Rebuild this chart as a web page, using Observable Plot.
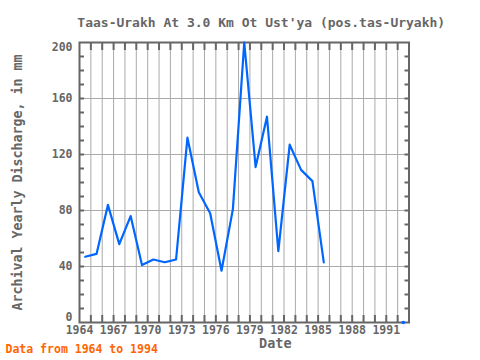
<!DOCTYPE html>
<html>
<head>
<meta charset="utf-8">
<script src="https://cdn.jsdelivr.net/npm/d3@7"></script>
<script src="https://cdn.jsdelivr.net/npm/@observablehq/plot@0.6"></script>
<style>
  html, body { margin: 0; padding: 0; background: #fff; }
</style>
</head>
<body>
<div id="chart"></div>
<script>
const titleText = "Taas-Urakh At 3.0 Km Ot Ust'ya (pos.tas-Uryakh)";
const xLabel = "Date";
const yLabel = "Archival Yearly Discharge, in mm";
const caption = "Data from 1964 to 1994";

const years = [1964,1965,1966,1967,1968,1969,1970,1971,1972,1973,1974,1975,1976,1977,1978,1979,1980,1981,1982,1983,1984,1985,1986,1987,1988,1989,1990,1991,1992];
const discharge = [47,49,84,56,76,41,45,43,45,132,93,78,37,81,200,111,147,51,127,109,101,43,null,null,null,null,null,null,0];

const xTickLabels = [1964,1967,1970,1973,1976,1979,1982,1985,1988,1991];
const yTickLabels = [0,40,80,120,160,200];
const yGrid = [40,80,120,160];
const yMinor = [10,20,30,40,50,60,70,80,90,100,110,120,130,140,150,160,170,180,190];
const yearTicks = [1965,1966,1967,1968,1969,1970,1971,1972,1973,1974,1975,1976,1977,1978,1979,1980,1981,1982,1983,1984,1985,1986,1987,1988,1989,1990,1991,1992];

const data = years.map((y, i) => ({year: y, value: discharge[i]}));
const isolated = data.filter((d, i) => d.value != null &&
  (i === 0 || data[i-1].value == null) && (i === data.length - 1 || data[i+1].value == null));

const font = "'DejaVu Sans Mono', monospace";
const gray = "#666";
const blue = "#0066ff";
const yMin = d3.min(yTickLabels), yMax = d3.max(yTickLabels);

const chart = Plot.plot({
  width: 480,
  height: 360,
  marginLeft: 79,
  marginRight: 71.5,
  marginTop: 42,
  marginBottom: 38,
  style: {fontFamily: font, background: "#fff"},
  x: {domain: [1964, 1993], axis: null},
  y: {domain: [0, 200], axis: null},
  marks: [
    Plot.ruleX(yearTicks, {stroke: "#aaa", strokeWidth: 1}),
    Plot.ruleY(yGrid, {stroke: "#aaa", strokeWidth: 1}),
    Plot.axisX(yearTicks, {anchor: "bottom", label: null, tickSize: -7, tickFormat: () => "", stroke: gray, strokeWidth: 2}),
    Plot.axisX(yearTicks, {anchor: "top", label: null, tickSize: -7, tickFormat: () => "", stroke: gray, strokeWidth: 2}),
    Plot.axisY(yMinor, {anchor: "left", label: null, tickSize: -5, tickFormat: () => "", stroke: gray, strokeWidth: 2}),
    Plot.axisY(yMinor, {anchor: "right", label: null, tickSize: -5, tickFormat: () => "", stroke: gray, strokeWidth: 2}),
    Plot.frame({stroke: gray, strokeWidth: 2}),
    Plot.line(data, {x: d => d.year + 0.5, y: "value", stroke: blue, strokeWidth: 2.2, defined: d => d.value != null}),
    Plot.dot(isolated, {x: d => d.year + 0.5, y: "value", r: 1.8, fill: blue, stroke: null}),
    Plot.text(xTickLabels, {x: d => d, frameAnchor: "bottom", dy: 11, text: d => String(d), fill: gray, fontSize: 11.5, fontWeight: "bold", fontFamily: font}),
    Plot.text(yTickLabels.filter(v => v !== yMin && v !== yMax), {y: d => d, frameAnchor: "left", dx: -7, textAnchor: "end", text: d => String(d), fill: gray, fontSize: 11.5, fontWeight: "bold", fontFamily: font}),
    Plot.text([yMax], {y: d => d, frameAnchor: "left", dx: -7, dy: 4.5, textAnchor: "end", text: d => String(d), fill: gray, fontSize: 11.5, fontWeight: "bold", fontFamily: font}),
    Plot.text([yMin], {y: d => d, frameAnchor: "left", dx: -7, dy: -5.5, textAnchor: "end", text: d => String(d), fill: gray, fontSize: 11.5, fontWeight: "bold", fontFamily: font}),
    Plot.text([titleText], {frameAnchor: "top", dx: 17, dy: -24.5, text: d => d, fill: gray, fontSize: 13, fontWeight: "bold", fontFamily: font}),
    Plot.text([xLabel], {frameAnchor: "bottom", dx: 31, dy: 25.5, text: d => d, fill: gray, fontSize: 13.5, fontWeight: "bold", fontFamily: font}),
    Plot.text([yLabel], {frameAnchor: "left", textAnchor: "middle", dx: -61.5, rotate: -90, text: d => d, fill: gray, fontSize: 13.3, fontWeight: "bold", fontFamily: font}),
    Plot.text([caption], {frameAnchor: "bottom-left", dx: -74, dy: 30.5, textAnchor: "start", text: d => d, fill: "#ff6600", fontSize: 11.5, fontWeight: "bold", fontFamily: font})
  ]
});
document.getElementById("chart").appendChild(chart);
</script>
</body>
</html>
